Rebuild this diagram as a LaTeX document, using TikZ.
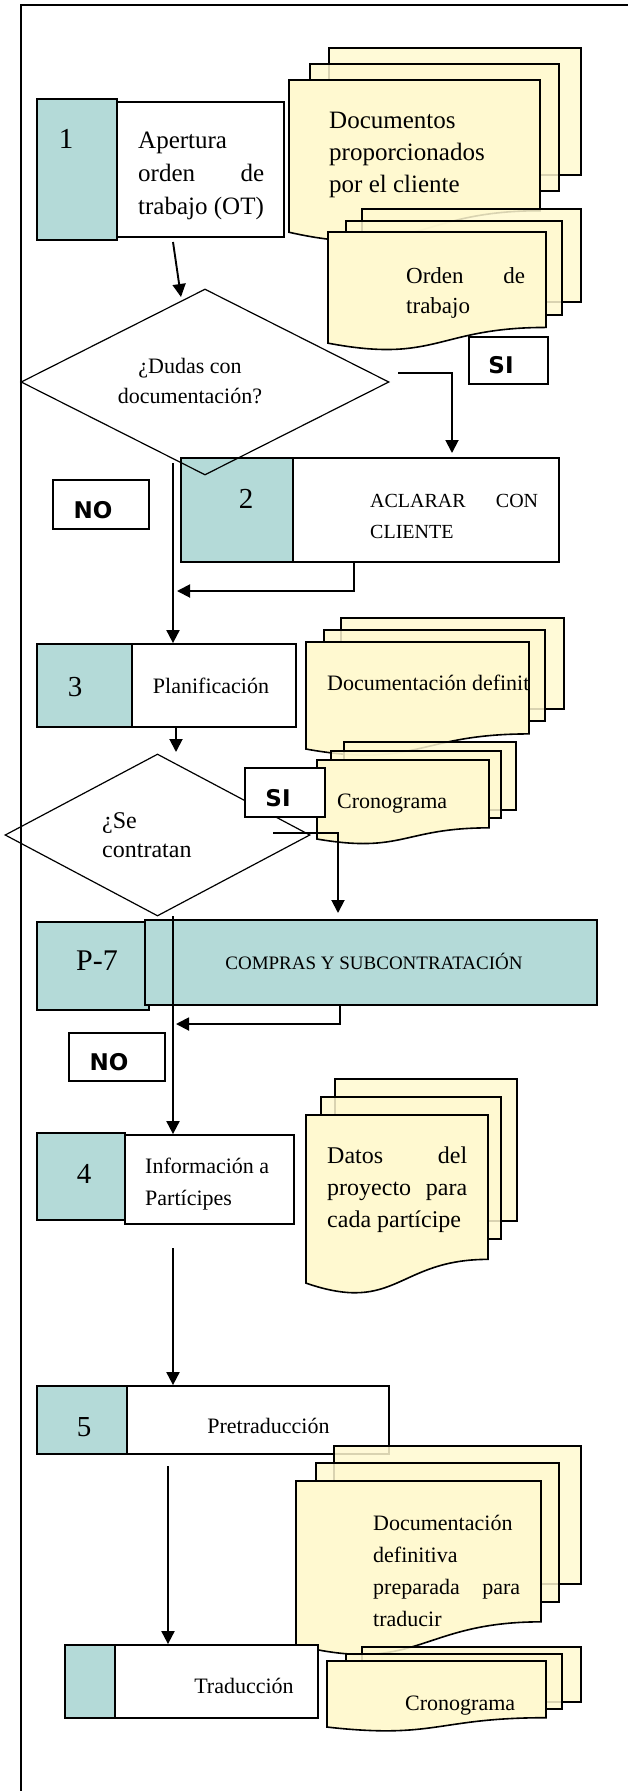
\documentclass[tikz,border=0pt]{standalone}
\usepackage{fontspec}
\setmainfont{Liberation Serif}
\newfontfamily\tagfont{DejaVu Sans}
\usetikzlibrary{shapes.geometric,arrows.meta}
\definecolor{tealc}{RGB}{180,218,216}
\definecolor{sheetc}{RGB}{255,249,208}
% front page of a document stack: left, right, top, height
\newcommand{\frontsheet}[4]{%
  \filldraw[sheet] (#1,#3) -- (#2,#3) -- (#2,{#3+0.802*#4})
    .. controls ({(#1+#2)/2},{#3+0.802*#4}) and ({(#1+#2)/2},{#3+1.108*#4}) .. (#1,{#3+0.934*#4}) -- cycle;}
\newcommand{\spreadline}[2]{\makebox[#1pt][s]{#2}}

\begin{document}
\begin{tikzpicture}[x=1pt,y=-1pt]
\tikzstyle{every node}+=[inner sep=0pt]
\tikzstyle{numbox}=[draw, fill=tealc, line width=1.8pt]
\tikzstyle{stepbox}=[draw, fill=white, line width=1.8pt]
\tikzstyle{decision}=[diamond, draw, line width=1.2pt]
\tikzstyle{answer}=[draw, fill=white, line width=1.8pt]
\tikzstyle{answertext}=[anchor=base, font=\tagfont\bfseries\fontsize{23}{23}\selectfont]
\tikzstyle{backsheet}=[draw, fill=sheetc, fill opacity=0.85, line width=1.6pt]
\tikzstyle{sheet}=[draw, fill=sheetc, line width=1.6pt]
\tikzstyle{flow}=[line width=1.9pt, -{Triangle[length=13pt,width=13pt]}]
\tikzstyle{lbl}=[anchor=base west]
\tikzstyle{num}=[anchor=base, font=\fontsize{29}{29}\selectfont]
\useasboundingbox (0,0) rectangle (628,1791);
\draw[line width=2.2pt] (21,1791) -- (21,5) -- (628,5);

% step 1
\node[numbox, minimum width=80pt, minimum height=141pt] (num1) at (77,169.5) {};
\node[stepbox, minimum width=167pt, minimum height=135pt] (step1) at (200.5,169.5) {};
\node[num] (n1) at (66,148) {1};
\node[lbl, font=\fontsize{25}{33}\selectfont] (t1) at (138,148) {\parbox[t]{126pt}{Apertura\\\spreadline{126}{orden de}\\trabajo (OT)}};

% documents of the client
\filldraw[backsheet] (329,48) rectangle (581,175);
\filldraw[backsheet] (310,64) rectangle (559,191);
\frontsheet{289}{540}{80}{163}
\node[lbl, font=\fontsize{25}{32}\selectfont] (d1) at (329,128) {\parbox[t]{200pt}{Documentos\\proporcionados\\por el cliente}};

% work order
\filldraw[backsheet] (362,209) rectangle (581,302);
\filldraw[backsheet] (346,221) rectangle (562,315);
\frontsheet{328}{546}{232}{119}
\node[lbl, font=\fontsize{23}{30}\selectfont] (d2) at (406,283) {\parbox[t]{119pt}{\spreadline{119}{Orden de}\\trabajo}};

% step 2
\node[numbox, minimum width=112pt, minimum height=104pt] (num2) at (237,510) {};
\node[stepbox, minimum width=266pt, minimum height=104pt] (step2) at (426,510) {};
\node[num] (n2) at (246,508) {2};
\node[lbl, font=\fontsize{20}{31}\selectfont] (t2) at (370,507) {\parbox[t]{168pt}{\spreadline{168}{ACLARAR CON}\\CLIENTE}};

% question 1
\node[decision, minimum width=368pt, minimum height=186pt] (dudas) at (205,382) {};
\node[anchor=base, font=\fontsize{22}{30}\selectfont] (q1) at (190,373) {\parbox[t]{170pt}{\centering ¿Dudas con\\documentación?}};
\node[answer, minimum width=79pt, minimum height=47pt] (si1) at (508.5,360.5) {};
\node[answertext] (si1t) at (501,373) {SI};
\node[answer, minimum width=96pt, minimum height=49pt] (no1) at (101,504.5) {};
\node[answertext] (no1t) at (93,518) {NO};

% step 3
\node[numbox, minimum width=95pt, minimum height=83pt] (num3) at (84.5,685.5) {};
\node[stepbox, minimum width=164pt, minimum height=83pt] (step3) at (214,685.5) {};
\node[num] (n3) at (75,696) {3};
\node[anchor=base, font=\fontsize{22}{31}\selectfont] (t3) at (211,693) {Planificación};

% final documentation
\filldraw[backsheet] (341,618) rectangle (564,709);
\filldraw[backsheet] (324,630) rectangle (545,721);
\frontsheet{306}{529}{642}{114.6}
\begin{scope}
\clip (306,642) rectangle (528,760);
\node[lbl, font=\fontsize{22}{31}\selectfont] (d3) at (327,690) {Documentación definitiva};
\end{scope}

% schedule
\filldraw[backsheet] (344,742) rectangle (516,810);
\filldraw[backsheet] (331,751) rectangle (501,818);
\frontsheet{317}{489}{760}{84.6}
\node[lbl, font=\fontsize{22}{31}\selectfont] (d4) at (337,808) {Cronograma};

% question 2
\node[decision, minimum width=305pt, minimum height=162pt] (contratan) at (157.5,835) {};
\node[lbl, font=\fontsize{24}{29}\selectfont] (q2) at (102,828) {\parbox[t]{120pt}{¿Se\\contratan}};
\node[answer, minimum width=80pt, minimum height=49pt] (si2) at (285,792.5) {};
\node[answertext] (si2t) at (278,806) {SI};

% P-7
\node[numbox, minimum width=112pt, minimum height=88pt] (nump7) at (93,966) {};
\node[numbox, minimum width=452pt, minimum height=85pt] (p7) at (371,962.5) {};
\node[num, font=\fontsize{30}{30}\selectfont] (np7) at (97,970) {P-7};
\node[anchor=base, font=\fontsize{19}{24}\selectfont] (tp7) at (374,969) {COMPRAS Y SUBCONTRATACIÓN};
\node[answer, minimum width=96pt, minimum height=48pt] (no2) at (117,1057) {};
\node[answertext] (no2t) at (109,1070) {NO};

% step 4
\node[numbox, minimum width=88pt, minimum height=87pt] (num4) at (81,1176.5) {};
\node[stepbox, minimum width=169pt, minimum height=89pt] (step4) at (209.5,1179.5) {};
\node[num] (n4) at (84,1183) {4};
\node[lbl, font=\fontsize{22}{32}\selectfont] (t4) at (145,1173) {\parbox[t]{140pt}{Información a\\Partícipes}};

% project data
\filldraw[backsheet] (335,1079) rectangle (517,1221);
\filldraw[backsheet] (321,1097) rectangle (501,1239);
\frontsheet{306}{488}{1115}{180}
\node[lbl, font=\fontsize{24}{32}\selectfont] (d5) at (327,1163) {\parbox[t]{140pt}{\spreadline{140}{Datos del}\\\spreadline{140}{proyecto para}\\cada partícipe}};

% step 5
\node[numbox, minimum width=90pt, minimum height=68pt] (num5) at (82,1420) {};
\node[stepbox, minimum width=262pt, minimum height=68pt] (step5) at (258,1420) {};
\node[num] (n5) at (84,1436) {5};
\node[anchor=base, font=\fontsize{22}{31}\selectfont] (t5) at (268.5,1433) {Pretraducción};

% documentation ready to translate
\filldraw[backsheet] (334,1446) rectangle (581,1584);
\filldraw[backsheet] (316,1463) rectangle (559,1602);
\frontsheet{296}{541}{1481}{175.6}
\node[lbl, font=\fontsize{22}{32}\selectfont] (d6) at (373,1530) {\parbox[t]{147pt}{Documentación\\definitiva\\\spreadline{147}{preparada para}\\traducir}};

% step 6
\node[numbox, minimum width=50pt, minimum height=73pt] (num6) at (90,1681.5) {};
\node[stepbox, minimum width=203pt, minimum height=73pt] (step6) at (216.5,1681.5) {};
\node[anchor=base, font=\fontsize{22}{31}\selectfont] (t6) at (244,1693) {Traducción};

% schedule again
\filldraw[backsheet] (362,1647) rectangle (581,1702);
\filldraw[backsheet] (346,1654) rectangle (562,1709);
\frontsheet{327}{546}{1661}{70.7}
\node[lbl, font=\fontsize{22}{31}\selectfont] (d7) at (405,1710) {Cronograma};

% connectors
\coordinate (o1) at (173,242);
\coordinate (i1) at (181,297);
\draw[flow] (o1) -- (i1);
\coordinate (s1) at (398,373);
\coordinate (s1e) at (452,453);
\draw[flow] (s1) -| (s1e);
\coordinate (r2) at (354,562);
\coordinate (r2e) at (177,591);
\draw[flow] (r2) |- (r2e);
\coordinate (no1s) at (173,463);
\draw[flow] (no1s) -- (no1s |- step3.north);
\coordinate (o3) at (176,727);
\coordinate (i3) at (176,752);
\draw[flow] (o3) -- (i3);
\coordinate (s2) at (273,833);
\coordinate (s2e) at (338,913);
\draw[flow] (s2) -| (s2e);
\coordinate (rp7) at (340,1005);
\coordinate (rp7e) at (176,1024);
\draw[flow] (rp7) |- (rp7e);
\coordinate (no2s) at (173,916);
\draw[flow] (no2s) -- (no2s |- step4.north);
\coordinate (o4) at (173,1248);
\draw[flow] (o4) -- (o4 |- step5.north);
\coordinate (o5) at (168,1466);
\draw[flow] (o5) -- (o5 |- step6.north);
\end{tikzpicture}
\end{document}
